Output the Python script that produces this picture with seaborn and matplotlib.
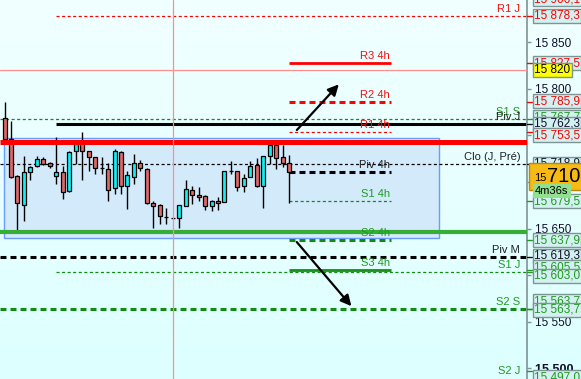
import numpy as np
import pandas as pd
import matplotlib
matplotlib.use("Agg")
import matplotlib.pyplot as plt
import seaborn as sns
from matplotlib.patches import Rectangle
from matplotlib.colors import LinearSegmentedColormap
from matplotlib.transforms import blended_transform_factory

# ---------------- data ----------------
candle_open = [15769.0, 15746.3, 15706.4, 15675.0, 15710.7, 15717.2, 15724.7, 15720.4, 15706.4, 15710.7,
               15690.2, 15733.4, 15744.2, 15733.4, 15726.9, 15715.0, 15713.9, 15693.4, 15732.3, 15695.6,
               15705.3, 15720.4, 15713.9, 15677.2, 15675.0, 15662.1, 15661.0, 15661.0, 15673.8, 15691.2,
               15685.8, 15684.8, 15673.8, 15679.4, 15678.3, 15711.8, 15711.8, 15695.6, 15705.3, 15718.2,
               15695.6, 15728.0, 15739.9, 15726.9, 15720.4]
candle_high = [15786.3, 15765.8, 15707.4, 15728.0, 15717.2, 15728.0, 15726.9, 15721.5, 15748.5, 15717.2,
               15733.4, 15744.2, 15753.9, 15733.4, 15726.9, 15726.9, 15720.4, 15735.5, 15733.4, 15711.8,
               15730.1, 15723.6, 15715.0, 15679.4, 15676.1, 15671.8, 15661.5, 15675.0, 15702.0, 15695.6,
               15694.5, 15685.8, 15680.5, 15683.7, 15711.8, 15722.6, 15711.8, 15708.5, 15722.6, 15725.8,
               15728.0, 15744.2, 15743.1, 15739.9, 15729.0]
candle_low = [15745.2, 15704.2, 15645.9, 15657.8, 15702.0, 15716.1, 15718.2, 15715.0, 15697.7, 15681.5,
              15689.1, 15719.3, 15702.0, 15711.8, 15708.5, 15708.5, 15679.4, 15686.9, 15686.9, 15670.7,
              15697.7, 15711.8, 15676.1, 15650.2, 15654.5, 15654.5, 15660.0, 15650.2, 15673.8, 15676.1,
              15679.4, 15669.6, 15668.6, 15669.6, 15678.3, 15708.5, 15690.2, 15689.1, 15705.3, 15694.5,
              15671.8, 15719.3, 15713.9, 15716.1, 15677.7]
candle_close = [15746.3, 15705.3, 15677.2, 15710.7, 15716.1, 15724.7, 15719.3, 15717.2, 15710.7, 15689.1,
                15732.3, 15741.0, 15733.4, 15726.9, 15715.0, 15715.0, 15691.2, 15733.4, 15695.6, 15707.4,
                15720.4, 15715.0, 15677.2, 15673.8, 15663.2, 15662.1, 15661.0, 15675.0, 15692.3, 15685.8,
                15683.7, 15673.8, 15679.4, 15677.2, 15711.8, 15711.8, 15694.5, 15704.2, 15717.2, 15695.6,
                15728.0, 15739.9, 15725.8, 15720.4, 15710.5]

level_names = ["R1 J", "R3 4h", "R2 4h", "S1 S", "Piv J", "R1 4h", "zone_high", "Clo (J, Pré)",
               "Piv 4h", "S1 4h", "zone_low", "S2 4h", "Piv M", "S3 4h", "S1 J", "S2 S", "S2 J"]
level_values = [15878.3, 15827.5, 15785.9, 15767.7, 15762.3, 15753.5, 15743.0, 15718.9,
                15711.0, 15679.5, 15646.4, 15637.9, 15619.3, 15605.5, 15603.0, 15563.7, 15497.0]

cross_price = 15820.0
cross_index = 26
zone_top = 15747.3
zone_bottom = 15639.9
last_price_text = "710,3"
timer_text = "4m36s"

box_values = [15906.1, 15878.3, 15827.5, 15785.9, 15767.7, 15762.3, 15753.5, 15718.9,
              15679.5, 15637.9, 15619.3, 15605.5, 15603.0, 15563.7, 15563.7, 15497.0]
yticks = [15500, 15550, 15600, 15650, 15700, 15750, 15800, 15850]

# ---------------- style ----------------
sns.set_style("white")
plt.rcParams["font.family"] = ["Liberation Sans", "DejaVu Sans"]
plt.rcParams["lines.scale_dashes"] = False

RED = "#FF0000"
GRN = "#138A13"
BLK = "#000000"
THIN = (2.2, 1.8)
THICK = (4.3, 2.9)

# name: (color, lw, dashes, span, label_right)
styles = {
    "R1 J": (RED, 0.9, THIN, "day", "J"),
    "R3 4h": (RED, 2.0, None, "4h", "4h"),
    "R2 4h": (RED, 2.2, THICK, "4h", "4h"),
    "S1 S": (GRN, 0.9, THIN, "full", "J"),
    "Piv J": (BLK, 2.2, None, "day", "J"),
    "R1 4h": (RED, 0.9, THIN, "4h", "4h"),
    "zone_high": (RED, 3.6, None, "full", None),
    "Clo (J, Pré)": (BLK, 0.9, THIN, "full", "J"),
    "Piv 4h": (BLK, 2.2, THICK, "4h", "4h"),
    "S1 4h": (GRN, 0.9, THIN, "4h", "4h"),
    "zone_low": ("#36AE36", 3.0, None, "full", None),
    "S2 4h": (GRN, 2.2, THICK, "4h", "4h"),
    "Piv M": (BLK, 2.2, THICK, "full", "J"),
    "S3 4h": ("#1A8C1A", 2.0, None, "4h", "4h"),
    "S1 J": (GRN, 0.9, THIN, "day", "J"),
    "S2 S": (GRN, 2.2, THICK, "full", "J"),
    "S2 J": (GRN, 0, None, None, "J"),
}
label_colors = {RED: "#F01010", GRN: "#1E9A1E", BLK: "#202020", "#36AE36": GRN, "#1A8C1A": "#1E9A1E"}

XMIN, XMAX = -0.7, 80.76
spans = {"full": (XMIN, XMAX), "day": (8.0, XMAX), "4h": (44.0, 59.7)}
label_x = {"J": 79.7, "4h": 59.6}

W, H = 581, 379
fig = plt.figure(figsize=(W / 100, H / 100), dpi=100)

# background gradient
bg = fig.add_axes([0, 0, 1, 1], zorder=-10)
cmap = LinearSegmentedColormap.from_list("bg", ["#F1FFFF", "#DDFFFF"])
bg.imshow(np.linspace(0, 1, 256).reshape(-1, 1), aspect="auto", cmap=cmap,
          extent=[0, 1, 0, 1], origin="upper")
bg.axis("off")

ax = fig.add_axes([0, 0, 527 / W, 1])
ax.set_facecolor("none")
ax.set_xlim(XMIN, XMAX)
ax.set_ylim(15488.5, 15895.5)

# zone rectangle
ax.add_patch(Rectangle((-0.08, zone_bottom), 67.28, zone_top - zone_bottom,
                       facecolor="#D3EAFB", edgecolor="#6A9BFF", lw=1.0, zorder=1))

# levels
for name, val in zip(level_names, level_values):
    col, lw, dash, span, lab = styles[name]
    if span is not None:
        x0, x1 = spans[span]
        z = 6 if lw >= 3 else 2.5
        kw = dict(color=col, lw=lw, zorder=z, solid_capstyle="butt", dash_capstyle="butt")
        if dash is not None:
            kw["dashes"] = dash
        ax.plot([x0, x1], [val, val], **kw)
    if lab is not None and not name.startswith("zone"):
        off = 0 if span is None else 5.2
        ax.annotate(name, xy=(label_x[lab], val), xytext=(0, off), textcoords="offset points",
                    ha="right", va="center", fontsize=8, color=label_colors[col], zorder=7)

# crosshair
ax.axhline(cross_price, color="#FF8E8E", lw=0.9, zorder=9)
ax.axvline(cross_index, color="#FF8E8E", lw=0.9, zorder=9)

# candles
df = pd.DataFrame({"o": candle_open, "h": candle_high, "l": candle_low, "c": candle_close})
df["x"] = np.arange(len(df))
ax.vlines(df["x"], df["l"], df["h"], color="black", lw=1.0, zorder=4)
colors = np.where(df["c"] > df["o"], "#12F0F0", np.where(df["c"] < df["o"], "#E06868", "black"))
ax.bar(df["x"], (df["c"] - df["o"]).abs(), bottom=np.minimum(df["o"], df["c"]), width=0.62,
       color=colors, edgecolor="black", lw=0.9, zorder=5)

# arrows
ax.annotate("", xy=(51.96, 15807.1), xytext=(44.9, 15753.7),
            arrowprops=dict(arrowstyle="-|>", color="black", lw=1.6, mutation_scale=16), zorder=8)
ax.annotate("", xy=(53.9, 15564.4), xytext=(44.9, 15637.8),
            arrowprops=dict(arrowstyle="-|>", color="black", lw=1.6, mutation_scale=16), zorder=8)

# axis
for s in ["top", "left", "bottom"]:
    ax.spines[s].set_visible(False)
ax.spines["right"].set_color("#7F9494")
ax.spines["right"].set_linewidth(1.2)
ax.set_xticks([])
ax.yaxis.tick_right()
ax.set_yticks(yticks, labels=[f"{t:,}".replace(",", " ") for t in yticks])
ax.tick_params(axis="y", direction="out", length=3, width=1, color="#7F9494", pad=2.5,
               labelsize=8.5, labelcolor="#10102A")
for t in ax.get_yticklabels():
    if t.get_text() == "15 500":
        t.set_fontweight("bold")
        t.set_fontsize(9)


def fmt(v):
    return f"{v:,.1f}".replace(",", " ").replace(".", ",")


# right-side price boxes (layout positions in pixels from top)
box_colors = [RED, RED, RED, RED, "#1E9A1E", "#10102A", RED, "#10102A",
              "#1E9A1E", "#1E9A1E", "#10102A", "#1E9A1E", "#1E9A1E", "#1E9A1E", "#1E9A1E", "#1E9A1E"]
box_py = [-1, 16, 63, 101, 117, 124, 135, 164, 201, 240, 256, 267, 276, 301, 310, 377]
tr = blended_transform_factory(ax.transAxes, ax.transData)
for i, (v, c, py) in enumerate(zip(box_values, box_colors, box_py)):
    ax.text(534 / 527, 1 - py / H, fmt(v), transform=ax.transAxes, ha="left", va="center",
            fontsize=8.5, color=c, clip_on=False, zorder=10 + i,
            bbox=dict(boxstyle="square,pad=0.12", fc="#D3F1F1", ec="#7F9494", lw=1))
    ax.plot([1.0, 1.009], [v, v], transform=tr, color=c, lw=1, clip_on=False, zorder=9)

# crosshair price box
ax.text(534 / 527, 1 - 70 / H, "15 820", transform=ax.transAxes, ha="left", va="center",
        fontsize=8.5, color="black", clip_on=False, zorder=40,
        bbox=dict(boxstyle="square,pad=0.12", fc="#FFFF00", ec="#7F9494", lw=1))

# last price box
fig.patches.append(Rectangle((529 / W, 1 - 190 / H), 60 / W, 27 / H, transform=fig.transFigure,
                             facecolor="#F7BA14", edgecolor="#B88A10", lw=1))
fig.text(534 / W, 1 - 178 / H, "15", fontsize=8, color="black", ha="left", va="center")
fig.text(547 / W, 1 - 176 / H, last_price_text, fontsize=14.5, color="black", ha="left", va="center")
fig.text(535 / W, 1 - 191 / H, timer_text, fontsize=8, color="black", ha="left", va="center",
         bbox=dict(boxstyle="square,pad=0.2", fc="#90E090", ec="none"))

fig.savefig("out.png", dpi=100)
